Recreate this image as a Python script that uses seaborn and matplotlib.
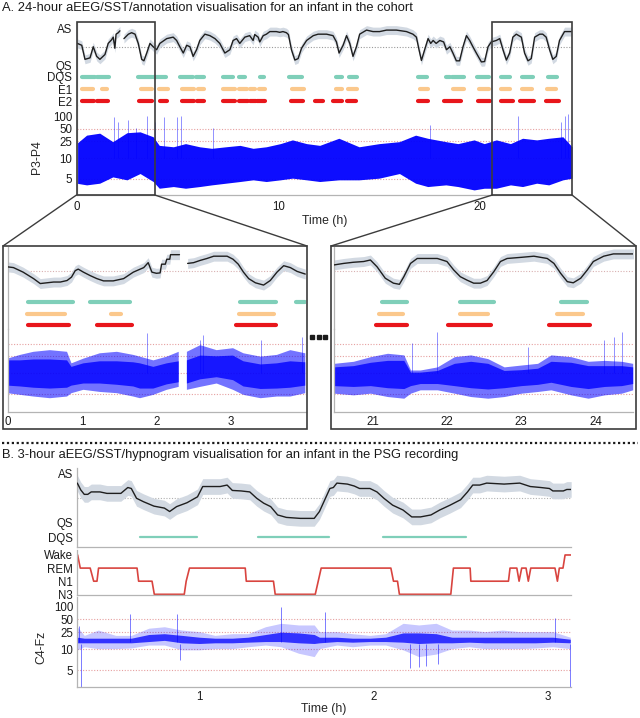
import numpy as np
import pandas as pd
import matplotlib
matplotlib.use("Agg")
import matplotlib.pyplot as plt
import seaborn as sns
from matplotlib.patches import Rectangle
from matplotlib.lines import Line2D
from matplotlib import transforms as mtrans

sns.set_theme(style="white")
plt.rcParams["font.family"] = ["Liberation Sans", "DejaVu Sans"]
plt.rcParams["font.size"] = 8.3

# ---------------- DATA ----------------
NaN = np.nan
# Panel A - 24h SST trend (AS=1, QS=0)
SST_A_H = [0, 0.26, 0.42, 0.67, 0.83, 1.0, 1.16, 1.41, 1.57, 1.74, 1.82, 1.9, 1.96, 2.07, 2.15, NaN,
           2.35, 2.57, 2.73, 2.9, 3.06, 3.23, 3.34, 3.48, 3.64, 3.8, 3.97, 4.13, 4.47, 4.79, 4.96, 5.12,
           5.29, 5.46, 5.62, 5.78, 5.95, 6.11, 6.36, 6.61, 6.86, 7.1, 7.35, 7.6, 7.76, 7.93, 8.09, 8.34,
           8.58, 8.75, 8.83, 9.0, 9.08, 9.25, 9.41, 9.58, 9.9, 10.07, 10.23, 10.4, 10.5, 10.65, 10.82,
           10.98, 11.15, 11.4, 11.73, 11.97, 12.39, 12.71, 12.88, 13.01, 13.21, 13.38, 13.54, 13.7, 13.87,
           14.03, 14.37, 14.69, 15.02, 15.36, 15.85, 16.35, 16.67, 16.84, 16.97, 17.09, 17.25, 17.42,
           17.55, 17.67, 17.82, 18.0, 18.19, 18.33, 18.5, 18.65, 18.82, 18.98, 19.15, 19.32, 19.48, 19.64,
           19.81, 20.06, 20.22, 20.39, 20.55, 20.8, 20.97, 21.13, 21.3, 21.46, 21.62, 21.79, 22.04, 22.2,
           22.37, 22.53, 22.7, 22.95, 23.1, 23.27, 23.44, 23.6, 23.77, 23.93, 24.18, 24.51]
SST_A_V = [0.62, 0.56, 0.18, 0.22, 0.52, 0.26, 0.18, 0.31, 0.61, 0.71, 0.78, 0.48, 0.86, 0.9, 0.95, NaN,
           0.74, 0.86, 0.9, 0.86, 0.61, 0.18, 0.14, 0.35, 0.61, 0.52, 0.44, 0.61, 0.74, 0.78, 0.69, 0.52,
           0.35, 0.56, 0.52, 0.26, 0.44, 0.69, 0.86, 0.82, 0.74, 0.61, 0.35, 0.44, 0.69, 0.74, 0.61, 0.78,
           0.82, 0.69, 0.85, 0.78, 0.65, 0.82, 0.86, 0.93, 0.93, 0.91, 0.93, 0.9, 0.85, 0.44, 0.16,
           0.2, 0.48, 0.69, 0.82, 0.86, 0.86, 0.82, 0.65, 0.35, 0.56, 0.82, 0.61, 0.26, 0.52,
           0.86, 0.97, 0.93, 0.93, 0.97, 0.97, 0.93, 0.86, 0.78, 0.44, 0.15, 0.44, 0.74,
           0.61, 0.69, 0.61, 0.69, 0.65, 0.44, 0.52, 0.35, 0.14, 0.14, 0.52, 0.82, 0.69, 0.52,
           0.35, 0.11, 0.12, 0.52, 0.65, 0.69, 0.74, 0.44, 0.16, 0.35, 0.78, 0.86, 0.78, 0.35,
           0.14, 0.2, 0.78, 0.86, 0.86, 0.78, 0.44, 0.18, 0.26, 0.69, 0.93, 0.93]

DQS_A = [(0.26, 0.92), (1.0, 1.62), (3.06, 3.72), (3.8, 4.43), (5.12, 5.78), (5.92, 6.31), (7.24, 7.76),
         (8.06, 8.34), (9.08, 9.28), (10.53, 11.15), (12.85, 13.13), (13.5, 13.9), (16.92, 17.37),
         (18.33, 18.49), (18.62, 19.18), (19.84, 20.44), (21.05, 21.5), (22.07, 22.61), (23.36, 23.82)]
E1_A = [(0.26, 0.8), (1.25, 1.5), (3.18, 3.72), (4.1, 4.55), (5.21, 5.82), (6.03, 6.31), (7.24, 7.85),
        (8.06, 8.43), (8.59, 8.84), (9.05, 9.33), (10.7, 11.26), (12.85, 13.13), (13.46, 13.9),
        (17.0, 17.42), (18.65, 19.18), (19.94, 20.44), (21.05, 21.5), (22.07, 22.56), (23.33, 23.77)]
E2_A = [(0.26, 0.87), (1.0, 1.57), (3.11, 3.72), (4.13, 4.47), (5.21, 5.82), (5.95, 6.31), (7.24, 7.85),
        (8.06, 8.5), (8.62, 8.89), (8.92, 9.33), (10.65, 11.23), (11.81, 12.22), (12.71, 13.13),
        (13.4, 13.87), (16.92, 17.42), (18.19, 19.07), (19.89, 20.5), (21.05, 21.62), (21.99, 22.65),
        (23.28, 23.9)]

EEG_A_H = [0, 0.5, 1.15, 1.8, 2.5, 3.15, 3.8, 4.1, 4.8, 5.4, 6.1, 6.7, 7.4, 8.1, 8.75, 9.4, 10.1, 10.7,
           11.4, 12.05, 13.0, 14.0, 15.0, 16.0, 16.8, 17.4, 18.3, 18.9, 19.7, 20.2, 20.8, 21.5, 22.1,
           22.8, 23.4, 24.1, 24.55]
EEG_A_HI = [22, 35, 39, 24.5, 40, 42, 32, 20, 18.5, 22, 18.5, 17, 18.5, 20, 17, 18.5, 22, 27, 22, 20,
            29.5, 18.5, 22, 24.5, 35, 29.5, 24.5, 22, 27, 22, 27, 22, 29.5, 27, 29.5, 32, 18.5]
EEG_A_LO = [4.0, 3.6, 4.0, 5.5, 4.8, 6.3, 4.4, 2.8, 3.2, 2.8, 3.2, 3.6, 4.0, 4.4, 4.8, 4.4, 4.8, 5.2,
            4.8, 4.4, 4.8, 4.8, 5.2, 6.3, 4.0, 3.2, 3.6, 3.2, 2.4, 2.8, 2.8, 3.6, 3.2, 4.0, 3.6, 4.8, 5.2]
SPIKE_A_H = [1.87, 2.07, 2.57, 2.95, 3.47, 3.89, 4.33, 4.96, 5.17, 6.77, 17.5, 21.87, 24.02, 24.18, 24.35]
SPIKE_A_V = [96, 73, 80, 51, 100, 73, 94, 94, 100, 51, 61, 100, 73, 100, 112]

# Left inset (0-4 h)
SST_L_H = [0, 0.08, 0.21, 0.35, 0.44, 0.53, 0.62, 0.71, 0.8, 0.86, 0.91, 0.95, 1.02, 1.11, 1.2, 1.29,
           1.42, 1.56, 1.69, 1.83, 1.89, 1.94, 2.0, 2.05, 2.07, 2.12, 2.14, 2.18, 2.19, 2.31, NaN,
           2.42, 2.5, 2.59, 2.68, 2.77, 2.86, 2.95, 3.03, 3.1, 3.17, 3.24, 3.33, 3.44, 3.53, 3.62,
           3.71, 3.8, 3.89, 4.0]
SST_L_V = [0.61, 0.59, 0.47, 0.3, 0.17, 0.19, 0.21, 0.21, 0.25, 0.34, 0.51, 0.55, 0.47, 0.38, 0.3, 0.24,
           0.24, 0.3, 0.47, 0.59, 0.72, 0.47, 0.44, 0.45, 0.68, 0.68, 0.81, 0.81, 0.93, 0.93, NaN,
           0.7, 0.72, 0.78, 0.83, 0.89, 0.89, 0.89, 0.81, 0.68, 0.47, 0.3, 0.19, 0.13, 0.25, 0.47,
           0.64, 0.59, 0.49, 0.42]
DQS_L = [(0.28, 0.88), (1.11, 1.64), (3.13, 3.61), (3.88, 4.0)]
E1_L = [(0.26, 0.77), (1.39, 1.53), (3.11, 3.58)]
E2_L = [(0.28, 0.82), (1.2, 1.67), (3.07, 3.61)]
EEG_L_H = [0.0, 0.17, 0.35, 0.57, 0.8, 0.86, 1.02, 1.24, 1.47, 1.69, 1.78, 1.96, 2.14, 2.3, NaN,
           2.41, 2.59, 2.81, 3.03, 3.17, 3.4, 3.62, 3.8, 4.0]
EEG_L_HI = [22, 27, 32, 35, 32, 17, 22, 29.5, 32, 27, 24.5, 20, 24.5, 32, NaN,
            32, 46, 35, 39, 29.5, 24.5, 27, 35, 29.5]
EEG_L_LO = [5.2, 4.8, 4.4, 4.0, 4.4, 5.2, 6.0, 5.5, 5.2, 4.4, 4.0, 4.8, 6.0, 6.7, NaN,
            6.0, 6.7, 7.5, 6.0, 4.8, 4.0, 4.4, 4.4, 5.2]
EEG_L_CHI = [20, 20, 21, 21, 20, 14, 17, 19, 19, 18, 17, 14, 17, 19, NaN,
             20, 26, 25, 26, 19, 16, 17, 19, 18]
EEG_L_CLO = [7, 6.8, 6.5, 6.3, 6.5, 7, 7.5, 7.5, 7.2, 6.8, 6.3, 6.3, 7.3, 7.8, NaN,
             7.5, 8.5, 9, 8.3, 6.8, 6.2, 6.3, 6.5, 7]
SPIKE_L_H = [1.87, 2.59, 2.63, 3.4, 3.95]
SPIKE_L_V = [88, 61, 79, 61, 73]

# Right inset (20.5-24.5 h)
SST_R_H = [20.48, 20.61, 20.74, 20.88, 20.97, 21.06, 21.17, 21.28, 21.36, 21.42, 21.51, 21.6, 21.73,
           21.87, 22.0, 22.09, 22.18, 22.27, 22.36, 22.45, 22.54, 22.63, 22.72, 22.81, 23.0, 23.17,
           23.35, 23.44, 23.53, 23.62, 23.7, 23.8, 23.89, 23.97, 24.11, 24.24, 24.51]
SST_R_V = [0.66, 0.7, 0.73, 0.75, 0.79, 0.61, 0.31, 0.18, 0.15, 0.35, 0.7, 0.83, 0.83,
           0.83, 0.75, 0.53, 0.35, 0.26, 0.18, 0.18, 0.25, 0.48, 0.75, 0.83, 0.86, 0.89,
           0.83, 0.7, 0.44, 0.22, 0.19, 0.31, 0.53, 0.75, 0.89, 0.95, 0.95]
DQS_R = [(21.13, 21.46), (22.17, 22.63), (23.53, 23.89)]
E1_R = [(21.09, 21.41), (22.17, 22.55), (23.48, 23.83)]
E2_R = [(21.05, 21.46), (22.02, 22.59), (23.37, 23.92)]
EEG_R_H = [20.48, 20.74, 20.97, 21.2, 21.42, 21.51, 21.64, 21.87, 22.1, 22.32, 22.55, 22.77, 23.0,
           23.22, 23.4, 23.67, 23.9, 24.12, 24.35, 24.5]
EEG_R_HI = [17, 19, 24.5, 29.5, 27, 11.8, 11.8, 14, 24.5, 27, 22, 14, 15.5, 17, 27, 24.5, 19, 20, 19, 17]
EEG_R_LO = [5.2, 4.8, 5.2, 4.4, 4.0, 5.2, 6.0, 6.0, 5.2, 4.4, 4.0, 4.4, 5.2, 5.6, 6.0, 4.8, 4.0, 4.8,
            5.2, 6.0]
EEG_R_CHI = [14, 15, 18, 20, 20, 10.5, 10.5, 11.5, 17, 19, 17, 11.5, 12, 13, 19, 18, 15, 15, 15, 14]
EEG_R_CLO = [7, 6.8, 7, 6.5, 6.3, 7, 7.5, 7.5, 7, 6.5, 6.2, 6.5, 7, 7.3, 7.8, 6.8, 6.3, 6.8, 7, 7.5]
SPIKE_R_H = [21.53, 21.87, 23.09, 24.11, 24.25, 24.36]
SPIKE_R_V = [51, 96, 42, 61, 73, 96]

# Panel B - 3 h PSG
SST_B_H = [0.30, 0.32, 0.34, 0.36, 0.38, 0.43, 0.47, 0.55, 0.59, 0.61, 0.64, 0.68, 0.74, 0.8, 0.83,
           0.87, 0.93, 0.99, 1.02, 1.08, 1.12, 1.16, 1.19, 1.24, 1.29, 1.33, 1.37, 1.41, 1.45, 1.5,
           1.58, 1.66, 1.69, 1.75, 1.77, 1.79, 1.85, 1.89, 1.92, 1.98, 2.02, 2.06, 2.11, 2.17, 2.22,
           2.27, 2.33, 2.38, 2.44, 2.5, 2.54, 2.57, 2.61, 2.65, 2.75, 2.84, 2.9, 2.96, 3.01, 3.03,
           3.09, 3.11, 3.135]
SST_B_V = [0.8, 0.66, 0.57, 0.57, 0.62, 0.62, 0.59, 0.59, 0.71, 0.69, 0.49, 0.42, 0.33, 0.29, 0.22,
           0.32, 0.4, 0.52, 0.73, 0.73, 0.73, 0.76, 0.65, 0.64, 0.62, 0.49, 0.39, 0.32, 0.15, 0.1,
           0.08, 0.08, 0.22, 0.69, 0.71, 0.8, 0.78, 0.74, 0.69, 0.69, 0.62, 0.49, 0.35, 0.25, 0.11,
           0.11, 0.15, 0.25, 0.35, 0.46, 0.62, 0.76, 0.76, 0.8, 0.78, 0.8, 0.73, 0.71, 0.69, 0.64,
           0.64, 0.67, 0.67]
DQS_B = [(0.658, 0.987), (1.335, 1.742), (2.057, 2.532)]
STAGES = ["N3", "N1", "REM", "Wake"]
HYP_H = [0.302, 0.317, 0.374, 0.394, 0.413, 0.422, 0.643, 0.652, 0.729, 0.742, 0.914, 0.925, 0.944,
         1.264, 1.27, 1.426, 1.436, 1.666, 1.683, 1.70, 2.1, 2.115, 2.138, 2.149, 2.444, 2.459, 2.555,
         2.559, 2.775, 2.784, 2.823, 2.836, 2.851, 2.876, 2.889, 2.903, 3.042, 3.056, 3.067, 3.088,
         3.1, 3.142]
HYP_S = ["Wake", "REM", "REM", "N1", "N1", "REM", "REM", "N1", "N1", "N3", "N3", "N1", "REM",
         "REM", "N1", "N1", "N3", "N3", "N1", "REM", "REM", "N1", "N1", "N3", "N3", "REM", "REM",
         "N1", "N1", "REM", "REM", "N1", "REM", "REM", "N1", "REM", "REM", "N1", "REM", "REM",
         "Wake", "Wake"]
EEG_B_H = [0.30, 0.34, 0.42, 0.52, 0.61, 0.71, 0.8, 0.9, 1.0, 1.09, 1.19, 1.28, 1.38, 1.47, 1.57, 1.66,
           1.69, 1.79, 1.88, 1.98, 2.07, 2.17, 2.26, 2.36, 2.45, 2.55, 2.64, 2.74, 2.84, 2.93, 3.03, 3.13]
EEG_B_HI = [33.6, 21, 28, 21, 21, 31, 33.6, 28, 25.7, 21, 23, 23, 33.6, 40.5, 37, 37, 25.7, 25.7, 23, 21,
            23, 40.5, 37, 40.5, 28, 28, 25.7, 28, 25.7, 25.7, 25.7, 19]
EEG_B_LO = [9.8, 11.3, 10.2, 10.2, 10.6, 12.4, 12.4, 9.8, 9.8, 10.2, 10.2, 11.3, 12.4, 11.3, 9.0, 8.2,
            10.2, 12.4, 11.3, 12.4, 12.4, 9.8, 8.2, 8.8, 10.2, 11.3, 10.2, 10.2, 10.2, 10.6, 11.3, 10.2]
EEG_B_CHI = [19, 18, 18, 18, 18, 22, 23, 21, 19, 18, 18, 19, 22, 25, 24, 22, 19, 19, 18, 18, 19, 24,
             24, 23, 19, 19, 19, 19, 19, 19, 19, 17]
EEG_B_CLO = [14, 14, 14, 14, 14, 15, 16, 14, 13.5, 14, 14, 14.5, 15, 15, 14, 13.5, 14, 15, 14.5, 15, 15,
             14.5, 13.5, 14, 14, 14.5, 14, 14, 14, 14, 14.5, 14]
SPIKE_BU_H = [0.31, 0.60, 0.87, 1.47, 1.72, 3.04]
SPIKE_BU_V = [35, 69, 69, 100, 76, 53]
SPIKE_BD_H = [0.32, 0.89, 2.21, 2.26, 2.30, 2.37, 3.13]
SPIKE_BD_V = [1.0, 7.4, 5.4, 5.7, 6.0, 6.5, 1.0]

EEG_TICKS = [5, 10, 25, 50, 100]
REF_LINES = [5, 10, 25, 50]
ZOOM_L = (0, 3.88)
ZOOM_R = (20.6, 24.55)

# ---------------- STYLE ----------------
LINE = "#1e1e1e"
SHADE = "#d2d9e2"
C_DQS = "#7fcfb9"
C_E1 = "#fbc88c"
C_E2 = "#e8161b"
C_HYP = "#d9443f"
BLUE = "#0000ff"
PINK = "#e6a0a0"
AXC = "#b4b4b4"
FS = 8.3

W, H = 640, 718
fig = plt.figure(figsize=(6.4, 7.18), dpi=100)


def fx(px):
    return px / W


def fy(py):
    return 1 - py / H


def add_ax(x0, y0, x1, y1):
    return fig.add_axes([x0 / W, 1 - y1 / H, (x1 - x0) / W, (y1 - y0) / H])


def fwd(v):
    v = np.asarray(v, float)
    return np.where(v <= 10, v / 10, 1 + np.log10(np.clip(v, 10, None) / 10))


def inv(u):
    u = np.asarray(u, float)
    return np.where(u <= 1, u * 10, 10 * 10 ** (np.clip(u, 1, None) - 1))


def style(ax, bottom=False):
    ax.set_facecolor("none")
    for s in ["top", "right"]:
        ax.spines[s].set_visible(False)
    ax.spines["left"].set_color(AXC)
    ax.spines["left"].set_linewidth(0.9)
    ax.spines["bottom"].set_visible(bottom)
    ax.spines["bottom"].set_color(AXC)
    ax.spines["bottom"].set_linewidth(0.9)
    ax.tick_params(direction="in", length=4, width=0.8, color=AXC, labelsize=FS, pad=3,
                   labelcolor="#1a1a1a")
    ax.set_xlabel("")
    ax.set_ylabel("")


def draw_sst(ax, h, v, band, lw):
    df = pd.DataFrame({"h": h, "v": v})
    df["seg"] = df["v"].isna().cumsum()
    df = df.dropna()
    for _, g in df.groupby("seg"):
        ax.fill_between(g["h"], g["v"] - band, g["v"] + band, color=SHADE, lw=0, zorder=1)
    sns.lineplot(data=df, x="h", y="v", units="seg", estimator=None, sort=False, color=LINE,
                 lw=lw, ax=ax, legend=False, zorder=3)


def draw_bars(ax, segs, y, color, lw):
    s = [a for a, b in segs]
    e = [b for a, b in segs]
    lc = ax.hlines([y] * len(s), s, e, colors=color, lw=lw, zorder=3)
    lc.set_capstyle("round")


def set_ticks(ax, pos, labels, hide_from=None):
    ax.set_yticks(pos)
    ax.set_yticklabels(labels)
    if hide_from is not None:
        for t in ax.yaxis.get_major_ticks()[hide_from:]:
            t.tick1line.set_visible(False)


def eeg_axes(ax, xlim, ylo, yhi, labels=True):
    ax.set_yscale("function", functions=(fwd, inv))
    ax.set_xlim(*xlim)
    ax.set_ylim(float(inv(ylo)), float(inv(yhi)))
    for r in REF_LINES:
        ax.axhline(r, color=PINK, ls=(0, (1, 1.5)), lw=0.8, zorder=0.5)
    ax.set_yticks(EEG_TICKS if labels else [])
    if labels:
        ax.set_yticklabels([str(t) for t in EEG_TICKS])
    ax.minorticks_off()


# ================= PANEL A (main) =================
X0A, X1A = 76.5, 572
axA = add_ax(X0A, 22, X1A, 105)
axA.axhline(0.5, color="#9a9a9a", ls=(0, (1, 1.5)), lw=0.8, zorder=0.5)
draw_sst(axA, SST_A_H, SST_A_V, 0.12, 1.0)
draw_bars(axA, DQS_A, -0.297, C_DQS, 3.0)
draw_bars(axA, E1_A, -0.622, C_E1, 3.0)
draw_bars(axA, E2_A, -0.946, C_E2, 3.0)
axA.set_xlim(0, 24.55)
axA.set_ylim(-1.054, 1.189)
style(axA)
axA.set_xticks([])
set_ticks(axA, [1, 0, -0.297, -0.622, -0.946], ["AS", "QS", "DQS", "E1", "E2"], hide_from=2)

axAe = add_ax(X0A, 105, X1A, 195)
eeg_axes(axAe, (0, 24.55), 0.119, 2.262)
axAe.fill_between(EEG_A_H, EEG_A_LO, EEG_A_HI, color=BLUE, lw=0, alpha=0.95, zorder=2)
axAe.vlines(SPIKE_A_H, 10, SPIKE_A_V, color=BLUE, lw=0.6, alpha=0.5, zorder=2)
style(axAe, bottom=True)
axAe.set_xticks([0, 10, 20])
axAe.tick_params(axis="x", pad=4)
axAe.set_ylabel("P3-P4", fontsize=FS + 0.5)
axAe.yaxis.set_label_coords((43 - X0A) / (X1A - X0A), 0.42)
axAe.set_xlabel("Time (h)", fontsize=FS + 0.5, labelpad=2)

# zoom rectangles on the main panel
blend = mtrans.blended_transform_factory(axAe.transData, fig.transFigure)
for (a, b) in (ZOOM_L, ZOOM_R):
    fig.add_artist(Rectangle((a, fy(195)), b - a, fy(22) - fy(195), transform=blend, fill=False,
                             ec="#3c3c3c", lw=1.2, clip_on=False, zorder=10))


def data_x_to_fig(ax, h):
    disp = ax.transData.transform((h, 10.0))
    return fig.transFigure.inverted().transform(disp)[0]


targets = [(ZOOM_L[0], 3), (ZOOM_L[1], 307), (ZOOM_R[0], 331), (ZOOM_R[1], 636)]
for h, px in targets:
    fig.add_artist(Line2D([data_x_to_fig(axAe, h), fx(px)], [fy(195), fy(246)],
                          transform=fig.transFigure, color="#3c3c3c", lw=1.0))

# inset frames
for (x0, x1) in ((3, 307), (331, 636)):
    fig.add_artist(Rectangle((fx(x0), fy(429)), fx(x1) - fx(x0), fy(246) - fy(429),
                             transform=fig.transFigure, fill=False, ec="#3c3c3c", lw=1.2))

# dots between insets
fig.add_artist(Line2D([fx(312), fx(318.5), fx(325)], [fy(337)] * 3, transform=fig.transFigure,
                      ls="none", marker="s", ms=2.3, color="#1a1a1a"))


def inset(x0, x1, xlim, sst_h, sst_v, dqs, e1, e2, eh, elo, ehi, eclo, echi, sh, sv, xt):
    ax = add_ax(x0, 247, x1, 329)
    ax.axhline(0.5, color="#d8b0b0", ls=(0, (1, 1.5)), lw=0.8, zorder=0.5)
    draw_sst(ax, sst_h, sst_v, 0.13, 1.0)
    draw_bars(ax, dqs, -0.324, C_DQS, 3.0)
    draw_bars(ax, e1, -0.632, C_E1, 3.0)
    draw_bars(ax, e2, -0.921, C_E2, 3.0)
    ax.set_xlim(*xlim)
    ax.set_ylim(-1.026, 1.132)
    style(ax)
    ax.set_xticks([])
    ax.set_yticks([1, 0])
    ax.set_yticklabels([])
    axe = add_ax(x0, 329, x1, 411.7)
    eeg_axes(axe, xlim, 0.079, 2.048, labels=False)
    axe.fill_between(eh, elo, ehi, color=BLUE, lw=0, alpha=0.55, zorder=2)
    axe.fill_between(eh, eclo, echi, color=BLUE, lw=0, alpha=0.8, zorder=2)
    axe.vlines(sh, 10, sv, color=BLUE, lw=0.6, alpha=0.5, zorder=2)
    style(axe, bottom=True)
    axe.set_yticks([])
    axe.set_xticks(xt)
    axe.tick_params(axis="x", pad=3)


inset(7.5, 306, (0, 4.01), SST_L_H, SST_L_V, DQS_L, E1_L, E2_L, EEG_L_H, EEG_L_LO, EEG_L_HI,
      EEG_L_CLO, EEG_L_CHI, SPIKE_L_H, SPIKE_L_V, [0, 1, 2, 3])
inset(334, 632.7, (20.48, 24.5), SST_R_H, SST_R_V, DQS_R, E1_R, E2_R, EEG_R_H, EEG_R_LO, EEG_R_HI,
      EEG_R_CLO, EEG_R_CHI, SPIKE_R_H, SPIKE_R_V, [21, 22, 23, 24])

# separator
fig.add_artist(Line2D([0.003, 0.997], [fy(443)] * 2, transform=fig.transFigure, color="#1a1a1a",
                      ls=(0, (1, 1.2)), lw=1.6))

# titles
fig.text(fx(2), fy(8), "A. 24-hour aEEG/SST/annotation visualisation for an infant in the cohort",
         ha="left", va="center", fontsize=9.3, color="#1a1a1a")
fig.text(fx(2), fy(455), "B. 3-hour aEEG/SST/hypnogram visualisation for an infant in the PSG recording",
         ha="left", va="center", fontsize=9.3, color="#1a1a1a")

# ================= PANEL B =================
X0B, X1B = 77.3, 571
XLB = (0.30, 3.134)
axB = add_ax(X0B, 468, X1B, 547.3)
axB.axhline(0.5, color="#b0b0b0", ls=(0, (1, 1.5)), lw=0.8, zorder=0.5)
draw_sst(axB, SST_B_H, SST_B_V, 0.16, 1.0)
draw_bars(axB, DQS_B, -0.3, C_DQS, 1.6)
axB.set_xlim(*XLB)
axB.set_ylim(-0.51, 1.108)
style(axB, bottom=True)
axB.set_xticks([])
set_ticks(axB, [1, 0, -0.3], ["AS", "QS", "DQS"], hide_from=2)

axH = add_ax(X0B, 550, X1B, 594.7)
hyp = pd.DataFrame({"h": HYP_H, "stage": [STAGES.index(s) for s in HYP_S]})
sns.lineplot(data=hyp, x="h", y="stage", sort=False, estimator=None, color=C_HYP, lw=1.2, ax=axH)
axH.set_xlim(*XLB)
axH.set_ylim(-0.03, 3.38)
style(axH, bottom=True)
axH.set_xticks([])
axH.set_yticks([3, 2, 1, 0])
axH.set_yticklabels(["Wake", "REM", "N1", "N3"])

axBe = add_ax(X0B, 597, X1B, 687.3)
eeg_axes(axBe, XLB, 0.095, 2.229)
axBe.fill_between(EEG_B_H, EEG_B_LO, EEG_B_HI, color=BLUE, lw=0, alpha=0.22, zorder=2)
axBe.fill_between(EEG_B_H, EEG_B_CLO, EEG_B_CHI, color=BLUE, lw=0, alpha=0.75, zorder=2)
axBe.vlines(SPIKE_BU_H, 15, SPIKE_BU_V, color=BLUE, lw=0.6, alpha=0.6, zorder=2)
axBe.vlines(SPIKE_BD_H, SPIKE_BD_V, 13, color=BLUE, lw=0.6, alpha=0.6, zorder=2)
style(axBe, bottom=True)
axBe.set_xticks([1, 2, 3])
axBe.tick_params(axis="x", pad=3)
axBe.set_ylabel("C4-Fz", fontsize=FS + 0.5)
axBe.yaxis.set_label_coords((47 - X0B) / (X1B - X0B), 0.446)
axBe.set_xlabel("Time (h)", fontsize=FS + 0.5, labelpad=0)

fig.savefig("out.png", dpi=100)
